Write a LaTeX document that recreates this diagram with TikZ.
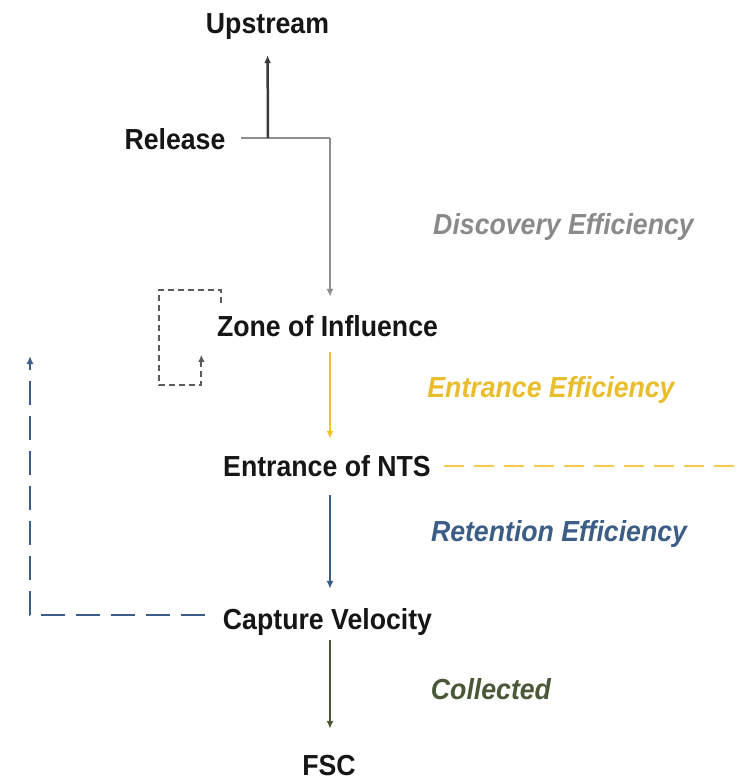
\documentclass[tikz,border=0pt]{standalone}
\usepackage{fontspec}
\setmainfont{Liberation Sans}[FakeStretch=0.92]
\usetikzlibrary{arrows.meta}

\definecolor{inkblack}{HTML}{161616}
\definecolor{stemgray}{HTML}{3A3A3A}
\definecolor{flowgray}{HTML}{8E8E8E}
\definecolor{loopgray}{HTML}{5A5A5A}
\definecolor{discgray}{HTML}{8A8A8A}
\definecolor{entyellow}{HTML}{F2C230}
\definecolor{entyellowtxt}{HTML}{E9BE2C}
\definecolor{retblue}{HTML}{3B5D86}
\definecolor{colgreen}{HTML}{4A5838}

\begin{document}
\begin{tikzpicture}[x=1pt,y=-1pt,
  stage/.style={font=\fontsize{29}{32}\selectfont\bfseries, text=inkblack,
    inner sep=0pt, text height=21pt, text depth=6pt, anchor=base},
  effect/.style={font=\fontsize{29}{32}\selectfont\bfseries\itshape,
    inner sep=0pt, anchor=base},
  flow/.style={line width=2.5pt, -{Latex[length=8pt,width=7pt]}},
  loopline/.style={line width=1.8pt, loopgray, dash pattern=on 6pt off 4pt,
    -{Latex[length=7pt,width=6.5pt]}},
  feedback/.style={line width=2.4pt, retblue, dash pattern=on 24pt off 11pt,
    -{Latex[length=8pt,width=7pt]}},
  bypass/.style={line width=2.6pt, entyellow!85, dash pattern=on 20pt off 10pt}
]
\useasboundingbox[fill=white] (0,0) rectangle (736,781);

% stages of the sequence
\node[stage] (up)   at (267.5,34)  {Upstream};
\node[stage] (rel)  at (175,149)   {Release};
\node[stage] (zone) at (327.5,336) {Zone of Influence};
\node[stage] (ent)  at (327,476)   {Entrance of NTS};
\node[stage] (cap)  at (327.5,629) {Capture Velocity};
\node[stage] (fsc)  at (329,775)   {FSC};

% efficiency labels
\node[effect, text=discgray]     (disc) at (563.5,234) {Discovery Efficiency};
\node[effect, text=entyellowtxt] (enef) at (551,397)   {Entrance Efficiency};
\node[effect, text=retblue]      (reef) at (559,541)   {Retention Efficiency};
\node[effect, text=colgreen]     (coll) at (491,699)   {Collected};

% helper points
\coordinate (col)    at (330,0);
\coordinate (relout) at (241,138);
\coordinate (split)  at (268,138);
\coordinate (drop)   at (330,138);

% release branch: upstream and downstream
\draw[flowgray, line width=2.5pt] (relout) -- (drop);
\draw[flow, flowgray, shorten >=18pt] (drop) -- (col |- zone.north);
\draw[flow, stemgray, shorten >=15pt] (split) -- (up.south);

% main chain
\draw[flow, entyellow, shorten <=10pt, shorten >=16pt] (col |- zone.south) -- (col |- ent.north);
\draw[flow, retblue, shorten <=13pt, shorten >=19pt] (col |- ent.south) -- (col |- cap.north);
\draw[flow, colgreen, shorten <=5pt, shorten >=25pt] (col |- cap.south) -- (col |- fsc.north);

% self loop on the zone of influence
\draw[loopline] ([xshift=4.5pt,yshift=12pt]zone.north west)
  -- ++(0,-13) -- ++(-62,0) -- ++(0,95) -- ++(42,0) -- ++(0,-30);

% feedback from capture velocity
\coordinate (cvout)  at (205,615);
\coordinate (fbturn) at (30,615);
\coordinate (fbtip)  at (30,356);
\draw[feedback] (cvout) -- (fbturn) -- (fbtip);

% bypass from the entrance
\coordinate (byend) at (738,466);
\draw[bypass] ([xshift=13pt,yshift=2.5pt]ent.east) -- (byend);
\end{tikzpicture}
\end{document}
